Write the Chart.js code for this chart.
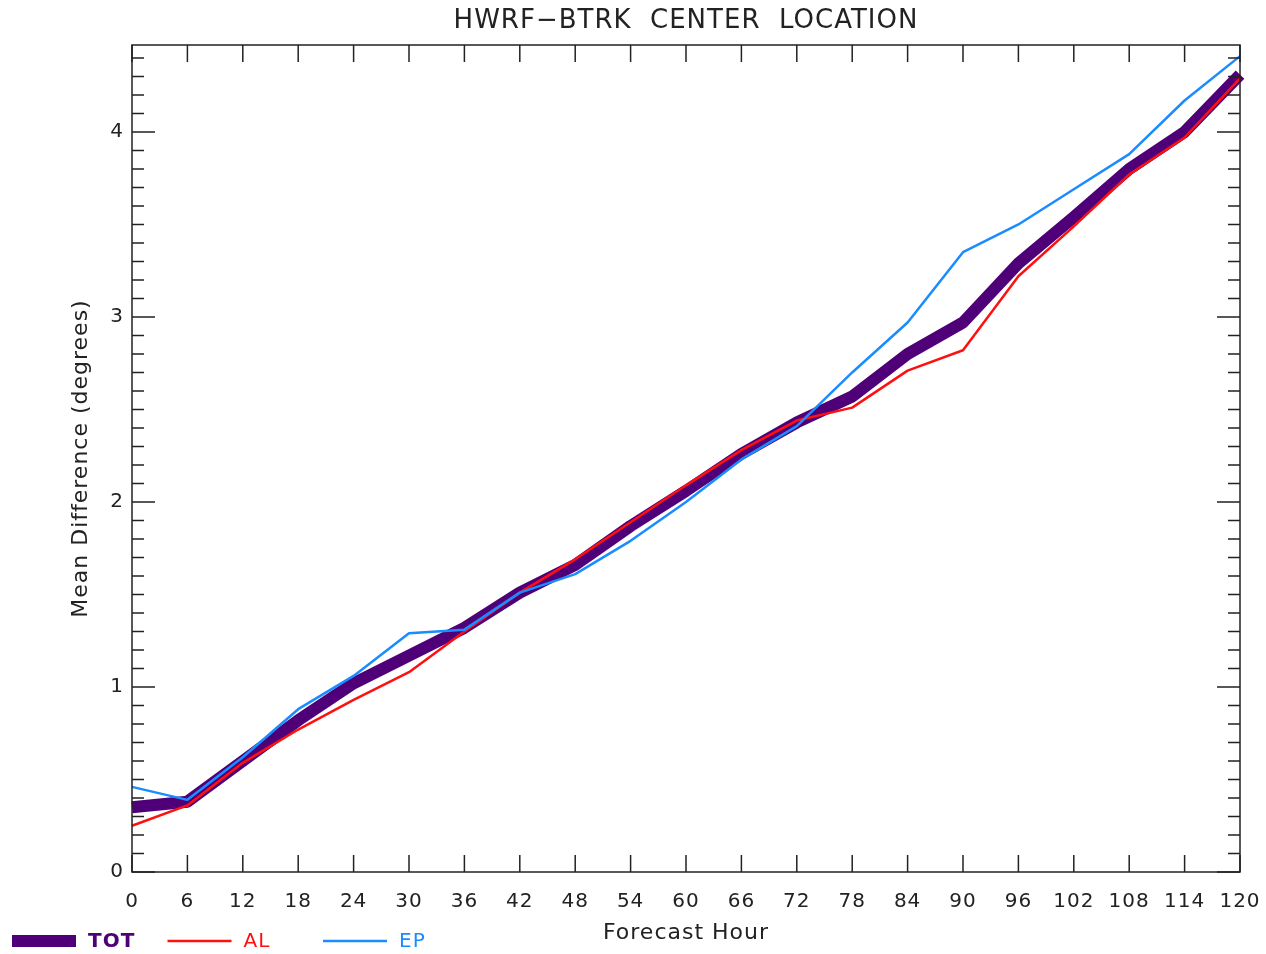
<!DOCTYPE html>
<html>
<head>
<meta charset="utf-8">
<title>HWRF-BTRK Center Location</title>
<script src="https://cdn.jsdelivr.net/npm/chart.js@4.4.1/dist/chart.umd.min.js"></script>
<style>
  html, body { margin: 0; padding: 0; background: #fff; }
  #wrap { position: relative; width: 1266px; height: 954px; }
</style>
</head>
<body>
<div id="wrap"><canvas id="chart"></canvas></div>
<script>
// forecast hours (x axis categories)
const hours = [0, 6, 12, 18, 24, 30, 36, 42, 48, 54, 60, 66, 72, 78, 84, 90, 96, 102, 108, 114, 120];

// mean center difference in degrees
const tot = [0.35, 0.38, 0.60, 0.82, 1.02, 1.17, 1.32, 1.51, 1.66, 1.87, 2.06, 2.26, 2.43, 2.57, 2.80, 2.97, 3.29, 3.54, 3.80, 4.00, 4.31];
const al  = [0.25, 0.36, 0.59, 0.77, 0.93, 1.08, 1.30, 1.51, 1.69, 1.89, 2.09, 2.28, 2.44, 2.51, 2.71, 2.82, 3.22, 3.49, 3.77, 3.97, 4.29];
const ep  = [0.46, 0.39, 0.62, 0.88, 1.06, 1.29, 1.31, 1.51, 1.61, 1.79, 2.00, 2.23, 2.41, 2.70, 2.97, 3.35, 3.50, 3.69, 3.88, 4.17, 4.41];

const yMajor = [0, 1, 2, 3, 4];
const yMinorStep = 0.1;
const yMax = 4.47;

const FONT = 'DejaVu Sans';
const INK = '#222';
const PURPLE = '#4f0078';
const RED = '#ff1010';
const BLUE = '#1a8cff';

// slightly looser lettering for every text on the canvas
const spacing = {
    id: 'spacing',
    beforeInit(chart) { chart.ctx.letterSpacing = '1px'; },
    beforeDraw(chart) { chart.ctx.letterSpacing = '1px'; }
};

// inward ticks on all four sides plus the frame
const frameTicks = {
    id: 'frameTicks',
    afterDraw(chart) {
        const { ctx, chartArea: a, scales } = chart;
        const xs = scales.x, ys = scales.y;
        ctx.save();
        ctx.strokeStyle = INK;
        ctx.lineWidth = 1.5;
        ctx.strokeRect(a.left, a.top, a.right - a.left, a.bottom - a.top);
        ctx.beginPath();
        hours.forEach((h, i) => {
            const px = xs.getPixelForValue(i);
            ctx.moveTo(px, a.bottom); ctx.lineTo(px, a.bottom - 17);
            ctx.moveTo(px, a.top); ctx.lineTo(px, a.top + 17);
        });
        for (let k = 0; k * yMinorStep <= yMax; k++) {
            const v = k * yMinorStep;
            const py = ys.getPixelForValue(v);
            const len = (k % 10 === 0) ? 23 : 12;
            ctx.moveTo(a.left, py); ctx.lineTo(a.left + len, py);
            ctx.moveTo(a.right, py); ctx.lineTo(a.right - len, py);
        }
        ctx.stroke();
        ctx.restore();
    }
};

// title above the plot box
const plotTitle = {
    id: 'plotTitle',
    afterDraw(chart) {
        const { ctx, chartArea: a } = chart;
        ctx.save();
        ctx.fillStyle = INK;
        ctx.font = '26px "' + FONT + '"';
        ctx.textAlign = 'center';
        ctx.textBaseline = 'middle';
        ctx.fillText('HWRF\u2212BTRK  CENTER  LOCATION', (a.left + a.right) / 2, 21);
        ctx.restore();
    }
};

// legend row along the bottom-left corner
const bottomLegend = {
    id: 'bottomLegend',
    afterDraw(chart) {
        const { ctx } = chart;
        const y = 941;
        ctx.save();
        chart.data.datasets.forEach((ds, i) => {
            const x0 = 12 + i * 155.5;
            ctx.strokeStyle = ds.borderColor;
            ctx.lineWidth = ds.borderWidth;
            ctx.beginPath();
            ctx.moveTo(x0, y);
            ctx.lineTo(x0 + 64, y);
            ctx.stroke();
            ctx.fillStyle = ds.borderColor;
            ctx.font = (ds.label === 'TOT' ? 'bold ' : '') + '20px "' + FONT + '"';
            ctx.textAlign = 'left';
            ctx.textBaseline = 'middle';
            ctx.fillText(ds.label, x0 + 76, y + 1);
        });
        ctx.restore();
    }
};

new Chart(document.getElementById('chart'), {
    type: 'line',
    data: {
        labels: hours.map(String),
        datasets: [
            { label: 'TOT', data: tot, borderColor: PURPLE, borderWidth: 12, order: 2 },
            { label: 'AL', data: al, borderColor: RED, borderWidth: 2.5, order: 1 },
            { label: 'EP', data: ep, borderColor: BLUE, borderWidth: 2.5, order: 0 }
        ]
    },
    options: {
        responsive: true,
        maintainAspectRatio: false,
        animation: false,
        layout: { padding: { top: 45, right: 26, left: 0, bottom: 0 } },
        elements: {
            point: { radius: 0 },
            line: { tension: 0, borderJoinStyle: 'round', fill: false }
        },
        plugins: {
            legend: { display: false },
            title: { display: false },
            tooltip: { enabled: false }
        },
        scales: {
            x: {
                type: 'category',
                offset: false,
                grid: { display: false, drawTicks: false },
                border: { display: false },
                ticks: {
                    color: INK, autoSkip: false, maxRotation: 0, padding: 18,
                    font: { family: FONT, size: 20 }
                },
                title: {
                    display: true, text: 'Forecast Hour', color: INK,
                    font: { family: FONT, size: 22 },
                    padding: { top: 0, bottom: 8 }
                },
                afterFit: s => {
                    s.height = 82;
                    s.paddingLeft = 0;
                    s.paddingRight = 0;
                }
            },
            y: {
                min: 0,
                max: yMax,
                grid: { display: false, drawTicks: false },
                border: { display: false },
                ticks: {
                    stepSize: 1, includeBounds: false, color: INK, padding: 8,
                    font: { family: FONT, size: 20 },
                    callback: v => yMajor.includes(v) ? String(v) : ''
                },
                title: {
                    display: true, text: 'Mean Difference (degrees)', color: INK,
                    font: { family: FONT, size: 22 },
                    padding: { top: 68, bottom: 0 }
                },
                afterFit: s => {
                    s.width = 132;
                    s.paddingTop = 0;
                    s.paddingBottom = 0;
                }
            }
        }
    },
    plugins: [spacing, frameTicks, plotTitle, bottomLegend]
});
</script>
</body>
</html>
